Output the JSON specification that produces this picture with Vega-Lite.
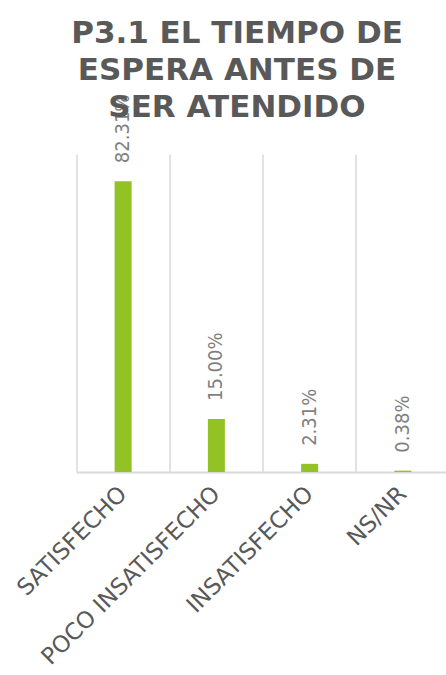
{
  "$schema": "https://vega.github.io/schema/vega-lite/v6.json",
  "width": 373,
  "height": 318,
  "autosize": {"type": "none"},
  "padding": {"left": 76.5, "top": 154, "right": 0, "bottom": 203},
  "background": "white",
  "title": {
    "text": ["P3.1 EL TIEMPO DE", "ESPERA ANTES DE", "SER ATENDIDO"],
    "font": "DejaVu Sans",
    "fontSize": 31,
    "fontWeight": "bold",
    "color": "#595959",
    "lineHeight": 37,
    "anchor": "middle",
    "frame": "group",
    "dx": -26,
    "offset": -29
  },
  "config": {"view": {"stroke": null}},
  "data": {
    "values": [
      {"cat": "SATISFECHO", "pct": 82.31, "label": "82.31%"},
      {"cat": "POCO INSATISFECHO", "pct": 15.0, "label": "15.00%"},
      {"cat": "INSATISFECHO", "pct": 2.31, "label": "2.31%"},
      {"cat": "NS/NR", "pct": 0.38, "label": "0.38%"}
    ]
  },
  "encoding": {
    "x": {
      "field": "cat",
      "type": "nominal",
      "sort": null,
      "scale": {"paddingInner": 0, "paddingOuter": 0},
      "axis": {
        "title": null,
        "bandPosition": 0,
        "grid": true,
        "gridColor": "#d9d9d9",
        "gridWidth": 1.5,
        "ticks": false,
        "domainColor": "#d9d9d9",
        "domainWidth": 2,
        "labelAngle": -45,
        "labelAlign": "right",
        "labelBaseline": "middle",
        "labelFont": "DejaVu Sans",
        "labelFontSize": 23,
        "labelColor": "#595959",
        "labelPadding": 18,
        "labelOffset": 0,
        "labelLimit": 400
      }
    },
    "y": {
      "field": "pct",
      "type": "quantitative",
      "scale": {"domain": [0, 90]},
      "axis": null
    }
  },
  "layer": [
    {"mark": {"type": "bar", "width": 17, "color": "#93C225"}},
    {
      "mark": {
        "type": "text",
        "angle": 270,
        "align": "left",
        "baseline": "middle",
        "dx": 18,
        "font": "DejaVu Sans Condensed, Liberation Sans Narrow, sans-serif",
        "fontSize": 20,
        "color": "#7f7f7f"
      },
      "encoding": {"text": {"field": "label"}}
    }
  ]
}
